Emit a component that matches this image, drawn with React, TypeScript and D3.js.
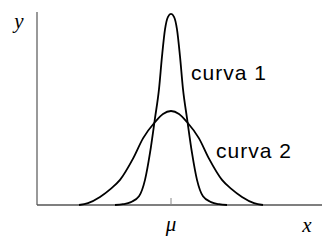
import React from "react";
import * as d3 from "d3";

// offsets from the mean (μ) and curve heights
const curve1X = [-56, -48, -40, -32, -26, -21, -16, -12, -9, -6, -3, 0, 3, 6, 9, 12, 16, 21, 26, 32, 40, 48, 56];
const curve1Y = [0, 0.004, 0.015, 0.045, 0.13, 0.27, 0.45, 0.6, 0.77, 0.91, 0.975, 0.99, 0.975, 0.91, 0.77, 0.6, 0.45, 0.27, 0.13, 0.045, 0.015, 0.004, 0];
const curve2X = [-92, -83, -71, -60, -51, -38, -28, -16, -8, 0, 8, 16, 28, 38, 51, 60, 71, 83, 92];
const curve2Y = [0, 0.01, 0.042, 0.085, 0.13, 0.24, 0.345, 0.43, 0.472, 0.487, 0.472, 0.43, 0.345, 0.24, 0.13, 0.085, 0.042, 0.01, 0];
const curveLabels = ["curva 1", "curva 2"];
const tickLabels = ["μ"];
const axisLabels = ["x", "y"];

const W = 336;
const H = 246;

export default function App() {
  const x = d3.scaleLinear().domain([-134, 151]).range([37, 322]);
  const y = d3.scaleLinear().domain([0, 1]).range([205, 12]);
  const line = d3
    .line<[number, number]>()
    .x((d) => x(d[0]))
    .y((d) => y(d[1]))
    .curve(d3.curveMonotoneX);
  const c1 = curve1X.map((v, i) => [v, curve1Y[i]] as [number, number]);
  const c2 = curve2X.map((v, i) => [v, curve2Y[i]] as [number, number]);
  const serif = "'Liberation Serif', 'DejaVu Serif', serif";
  const sans = "'Liberation Sans', Arial, sans-serif";
  return (
    <svg
      width={W}
      height={H}
      style={{ position: "absolute", left: 0, top: 0, background: "#fff" }}
    >
      {/* axes */}
      <line x1={x(-134)} x2={x(-134)} y1={y(1)} y2={y(0)} stroke="#777" strokeWidth={1.5} />
      <line x1={x(-134)} x2={x(151)} y1={y(0)} y2={y(0)} stroke="#555" strokeWidth={1.5} />
      <line x1={x(0)} x2={x(0)} y1={y(0)} y2={y(0) - 7} stroke="#888" strokeWidth={1} />
      {/* curves */}
      <path d={line(c2) || ""} fill="none" stroke="#000" strokeWidth={1.8} />
      <path d={line(c1) || ""} fill="none" stroke="#000" strokeWidth={1.8} />
      {/* labels */}
      <text x={191} y={80} fontFamily={sans} fontSize={21} letterSpacing={1} fill="#000">
        {curveLabels[0]}
      </text>
      <text x={216} y={158} fontFamily={sans} fontSize={21} letterSpacing={1} fill="#000">
        {curveLabels[1]}
      </text>
      <text x={x(0)} y={231} fontFamily={serif} fontStyle="italic" fontSize={21} textAnchor="middle" fill="#000">
        {tickLabels[0]}
      </text>
      <text x={307} y={232} fontFamily={serif} fontStyle="italic" fontSize={21} textAnchor="middle" fill="#000">
        {axisLabels[0]}
      </text>
      <text x={19} y={28} fontFamily={serif} fontStyle="italic" fontSize={21} textAnchor="middle" fill="#000">
        {axisLabels[1]}
      </text>
    </svg>
  );
}
